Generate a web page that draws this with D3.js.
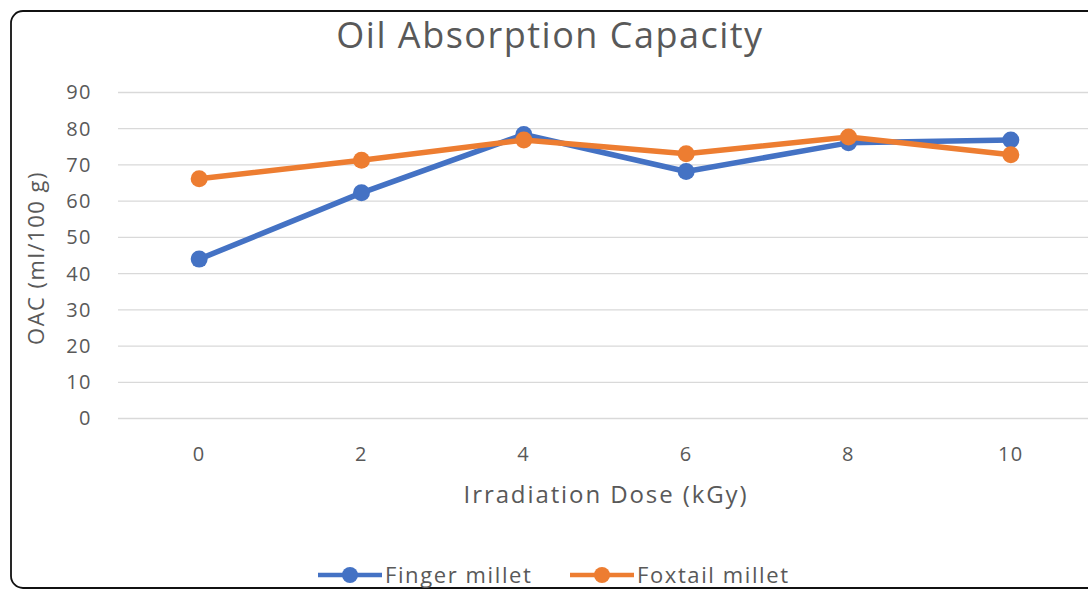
<!DOCTYPE html>
<html>
<head>
<meta charset="utf-8">
<script src="https://cdn.jsdelivr.net/npm/d3@7"></script>
<style>
  html, body { margin: 0; padding: 0; background: #fff; }
  svg { display: block; font-family: "Open Sans", sans-serif; }
</style>
</head>
<body>
<svg id="chart" width="1088" height="590"></svg>
<script>
// Irradiation dose levels (kGy) on the x axis
const doses = ["0", "2", "4", "6", "8", "10"];
// Oil absorption capacity (ml/100 g) per dose
const fingerMillet = [44.0, 62.3, 78.4, 68.2, 76.1, 76.9];
const foxtailMillet = [66.2, 71.3, 76.9, 73.1, 77.7, 72.8];
const yTicks = [0, 10, 20, 30, 40, 50, 60, 70, 80, 90];

const series = [
  { name: "Finger millet", values: fingerMillet, color: "#4472C4" },
  { name: "Foxtail millet", values: foxtailMillet, color: "#ED7D31" }
];

const svg = d3.select("#chart");
const textColor = "#595959";

// Chart frame
svg.append("rect")
  .attr("x", 11).attr("y", 11)
  .attr("width", 1100).attr("height", 577)
  .attr("rx", 12).attr("ry", 12)
  .attr("fill", "#fff")
  .attr("stroke", "#111").attr("stroke-width", 1.8);

const x = d3.scaleBand().domain(doses).range([118, 1092]);
const y = d3.scaleLinear().domain([0, 90]).range([418.5, 92.5]);

// Horizontal gridlines
svg.append("g").selectAll("line")
  .data(yTicks).join("line")
  .attr("x1", 118).attr("x2", 1092)
  .attr("y1", d => y(d)).attr("y2", d => y(d))
  .attr("stroke", "#d9d9d9").attr("stroke-width", 1.3);

// Y axis labels
const yAxis = svg.append("g")
  .attr("transform", "translate(92,0)")
  .call(d3.axisLeft(y).tickValues(yTicks).tickSize(0).tickPadding(0));
yAxis.select(".domain").remove();
yAxis.selectAll("text")
  .attr("fill", textColor).attr("font-size", 20)
  .attr("letter-spacing", 1.5)
  .attr("font-family", "Open Sans, sans-serif");

// X axis labels
const xAxis = svg.append("g")
  .attr("transform", "translate(0,447)")
  .call(d3.axisBottom(x).tickSize(0).tickPadding(0));
xAxis.select(".domain").remove();
xAxis.selectAll("text")
  .attr("fill", textColor).attr("font-size", 20)
  .attr("letter-spacing", 1.5)
  .attr("font-family", "Open Sans, sans-serif");

// Title
svg.append("text")
  .attr("x", 550).attr("y", 48)
  .attr("text-anchor", "middle")
  .attr("fill", textColor).attr("font-size", 36)
  .attr("letter-spacing", 1.5)
  .text("Oil Absorption Capacity");

// Axis titles
svg.append("text")
  .attr("x", 606).attr("y", 503)
  .attr("text-anchor", "middle")
  .attr("fill", textColor).attr("font-size", 24)
  .attr("letter-spacing", 1.9)
  .text("Irradiation Dose (kGy)");

svg.append("text")
  .attr("transform", "translate(44,258) rotate(-90)")
  .attr("text-anchor", "middle")
  .attr("fill", textColor).attr("font-size", 22)
  .attr("letter-spacing", 1.5)
  .text("OAC (ml/100 g)");

// Lines and markers
const cx = d => x(d) + x.bandwidth() / 2;
const line = d3.line()
  .x((v, i) => cx(doses[i]))
  .y(v => y(v));

series.forEach(s => {
  svg.append("path")
    .datum(s.values)
    .attr("d", line)
    .attr("fill", "none")
    .attr("stroke", s.color)
    .attr("stroke-width", 5.5)
    .attr("stroke-linejoin", "round");
  svg.append("g").selectAll("circle")
    .data(s.values).join("circle")
    .attr("cx", (v, i) => cx(doses[i]))
    .attr("cy", v => y(v))
    .attr("r", 8.5)
    .attr("fill", s.color);
});

// Legend
const legendItems = [
  { s: series[0], x: 318 },
  { s: series[1], x: 570 }
];
legendItems.forEach(({ s, x: lx }) => {
  const g = svg.append("g").attr("transform", `translate(${lx},575)`);
  g.append("line").attr("x1", 0).attr("x2", 64)
    .attr("stroke", s.color).attr("stroke-width", 4.5);
  g.append("circle").attr("cx", 32).attr("r", 8).attr("fill", s.color);
  g.append("text").attr("x", 67).attr("y", 8)
    .attr("fill", textColor).attr("font-size", 22)
    .attr("letter-spacing", 1.6)
    .text(s.name);
});
</script>
</body>
</html>
